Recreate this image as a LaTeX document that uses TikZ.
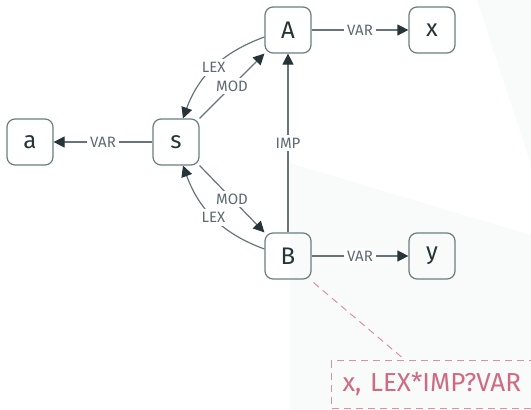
\documentclass[tikz,border=0pt]{standalone}
\usepackage{fontspec}
\setmainfont{Fira Sans}
\usetikzlibrary{arrows.meta}
\definecolor{bgshade}{HTML}{F9FBFB}
\definecolor{boxline}{HTML}{6B7C7E}
\definecolor{ink}{HTML}{263437}
\definecolor{edgeline}{HTML}{657578}
\definecolor{labelink}{HTML}{5C6B6E}
\definecolor{notepink}{HTML}{CF6A82}
\definecolor{notedash}{HTML}{DE8FA2}
\tikzset{
  sym/.style={draw=boxline, line width=1.2pt, rounded corners=8pt,
    minimum width=46pt, minimum height=46pt, inner sep=0pt,
    text=ink, font=\fontsize{24}{24}\selectfont},
  rel/.style={draw=edgeline, line width=1.2pt,
    -{Triangle[length=11pt,width=11pt,fill=ink,color=ink]}},
  lbl/.style={fill=white, inner sep=3pt, text=labelink,
    font=\fontsize{15}{15}\selectfont},
  note/.style={draw=notedash, line width=1pt, dash pattern=on 7pt off 5pt}
}
\begin{document}
\begin{tikzpicture}[x=1pt,y=-1pt]
  \useasboundingbox (0,0) rectangle (531,410);
  \clip (0,0) rectangle (531,410);
  % pale backdrop panels
  \fill[bgshade] (477,0) -- (531,0) -- (531,165) -- cycle;
  \fill[bgshade] (290,163) -- (531,235) -- (531,410) -- (290,410) -- cycle;

  % symbols
  \node[sym] (A) at (288,30) {A};
  \node[sym] (x) at (432,30) {x};
  \node[sym] (s) at (176,142) {s};
  \node[sym] (a) at (30,142) {a};
  \node[sym] (B) at (288,256) {B};
  \node[sym] (y) at (432,256) {y};

  % relations
  \draw[rel] (s) -- node[lbl] {VAR} (a);
  \draw[rel] (A) -- node[lbl] {VAR} (x);
  \draw[rel] (B) -- node[lbl] {VAR} (y);
  \draw[rel] (B) -- node[lbl] {IMP} (A);
  \draw[rel] (s.north east) -- node[lbl] {MOD} (A.south west);
  \draw[rel] (s.south east) -- node[lbl] {MOD} (B.north west);
  \draw[rel] ([yshift=-7pt]A.west) to[out=200,in=70]
     node[lbl,pos=0.5] {LEX} ([xshift=7pt]s.north);
  \draw[rel] ([yshift=7pt]B.west) to[out=160,in=-70]
     node[lbl,pos=0.5] {LEX} ([xshift=7pt]s.south);

  % annotation
  \node[note, anchor=north west, minimum width=240pt, minimum height=48pt,
        inner xsep=11pt, text=notepink, font=\fontsize{26}{26}\selectfont,
        text width=218pt, align=left] (n) at (331,360) {x, LEX*IMP?VAR};
  \coordinate (nt) at (405,360);
  \draw[note] ([xshift=2pt,yshift=-3pt]B.south east) -- (nt);
\end{tikzpicture}
\end{document}
